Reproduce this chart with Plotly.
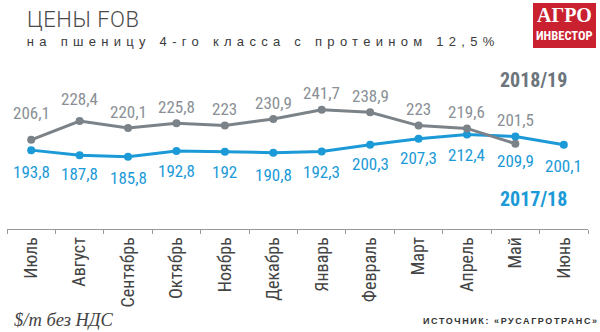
import plotly.graph_objects as go

months = ["Июль", "Август", "Сентябрь", "Октябрь", "Ноябрь", "Декабрь",
          "Январь", "Февраль", "Март", "Апрель", "Май", "Июнь"]
prices_2018_19 = [206.1, 228.4, 220.1, 225.8, 223, 230.9, 241.7, 238.9, 223, 219.6, 201.5]
prices_2017_18 = [193.8, 187.8, 185.8, 192.8, 192, 190.8, 192.3, 200.3, 207.3, 212.4, 209.9, 200.1]

# label offsets (pixels) for the value labels
gray_shift = [27, 22, 16, 16, 17, 16, 17, 16, 17, 16, 24]
blue_shift = [-22, -19, -21, -20, -20, -22, -21, -19, -19, -21, -24, -21]

GRAY = "#7b8389"
GRAY_TXT = "#8a9096"
BLUE = "#1b9ad7"
NARROW = "Liberation Sans Narrow, Arial Narrow, Roboto Condensed, sans-serif"

W, H = 600, 332
L, R, T, B = 7, 12, 60, 103


def fx(px):
    return (px - L) / (W - L - R)


def fy(py):
    return (H - B - py) / (H - T - B)


def fmt(v):
    s = f"{v:.1f}".rstrip("0").rstrip(".")
    return s.replace(".", ",")


fig = go.Figure()
fig.add_trace(go.Scatter(
    x=months, y=prices_2017_18, mode="lines+markers",
    line=dict(color=BLUE, width=3), marker=dict(color=BLUE, size=8),
    hoverinfo="skip", showlegend=False))
fig.add_trace(go.Scatter(
    x=months[:len(prices_2018_19)], y=prices_2018_19, mode="lines+markers",
    line=dict(color=GRAY, width=3), marker=dict(color=GRAY, size=8),
    hoverinfo="skip", showlegend=False))

ann = []
for m, v, s in zip(months, prices_2018_19, gray_shift):
    ann.append(dict(x=m, y=v, text=fmt(v), showarrow=False, yshift=s,
                    font=dict(family=NARROW, size=17, color=GRAY_TXT)))
for m, v, s in zip(months, prices_2017_18, blue_shift):
    ann.append(dict(x=m, y=v, text=fmt(v), showarrow=False, yshift=s,
                    font=dict(family=NARROW, size=17, color=BLUE)))

# titles
ann.append(dict(xref="paper", yref="paper", x=fx(26), y=fy(20), xanchor="left", yanchor="middle",
                text="ЦЕНЫ FOB", showarrow=False,
                font=dict(family="Roboto, sans-serif", size=22, weight=300, color="#4a4a4a")))
ann.append(dict(xref="paper", yref="paper", x=fx(26), y=fy(42), xanchor="left", yanchor="middle",
                text="на пшеницу 4-го класса с протеином 12,5%", showarrow=False,
                font=dict(family="Liberation Sans, Arial, sans-serif", size=13, color="#3a3a3a")))
# series names
ann.append(dict(xref="paper", yref="paper", x=fx(569), y=fy(80), xanchor="right", yanchor="middle",
                text="<b>2018/19</b>", showarrow=False,
                font=dict(family=NARROW, size=20, color="#6d757c")))
ann.append(dict(xref="paper", yref="paper", x=fx(569), y=fy(199), xanchor="right", yanchor="middle",
                text="<b>2017/18</b>", showarrow=False,
                font=dict(family=NARROW, size=20, color=BLUE)))
# footer
ann.append(dict(xref="paper", yref="paper", x=fx(12), y=fy(320), xanchor="left", yanchor="middle",
                text="<i>$/т без НДС</i>", showarrow=False,
                font=dict(family="Liberation Serif, Times New Roman, serif", size=18.5, color="#444444")))
ann.append(dict(xref="paper", yref="paper", x=fx(596), y=fy(321), xanchor="right", yanchor="middle",
                text="<b>ИСТОЧНИК: «РУСАГРОТРАНС»</b>", showarrow=False,
                font=dict(family="Liberation Sans, Arial, sans-serif", size=9, color="#333333")))
# logo
ann.append(dict(xref="paper", yref="paper", x=fx(564), y=fy(15), xanchor="center", yanchor="middle",
                text="<b>АГРО</b>", showarrow=False,
                font=dict(family="Liberation Serif, Times New Roman, serif", size=20, color="white")))
ann.append(dict(xref="paper", yref="paper", x=fx(564), y=fy(36), xanchor="center", yanchor="middle",
                text="<b>ИНВЕСТОР</b>", showarrow=False,
                font=dict(family=NARROW, size=12.5, color="white")))

fig.update_layout(
    width=W, height=H,
    margin=dict(l=L, r=R, t=T, b=B),
    paper_bgcolor="white", plot_bgcolor="white",
    annotations=ann,
    shapes=[dict(type="rect", xref="paper", yref="paper",
                 x0=fx(533), x1=fx(596), y0=fy(3), y1=fy(48),
                 fillcolor="#c9212f", line=dict(width=0), layer="below")],
    xaxis=dict(type="category", range=[-0.5, 11.5], showgrid=False, zeroline=False,
               showline=True, linecolor="#999999", linewidth=1,
               ticks="outside", tickson="boundaries", ticklen=4, tickcolor="#999999",
               tickangle=-90, tickfont=dict(family=NARROW, size=18, color="#444444"),
               fixedrange=True),
    yaxis=dict(range=[100, 301], visible=False, fixedrange=True),
)

# spread letters of the tracked texts to the reference width, left-anchored
# (coordinates measured relative to the figure's own svg)
post = """
var svgLeft = document.querySelector('.main-svg').getBoundingClientRect().left;
var specs = [['ЦЕНЫ', 27, 139], ['на пшеницу', 27, 495], ['ИСТОЧНИК', 423, 597]];
document.querySelectorAll('.annotation-text').forEach(function(t){
  specs.forEach(function(s){
    if (t.textContent.indexOf(s[0]) !== 0) return;
    var n = t.textContent.length;
    var xa = parseFloat(t.getAttribute('x')) || 0;
    var r0 = t.getBoundingClientRect();
    var anchor = t.getAttribute('text-anchor') || 'start';
    var localLeft = anchor === 'middle' ? xa - r0.width / 2 : (anchor === 'end' ? xa - r0.width : xa);
    var off = (r0.left - svgLeft) - localLeft;
    var sp = (s[2] - s[1] - r0.width) / (n - 1);
    t.setAttribute('text-anchor', 'start');
    t.style.letterSpacing = sp + 'px';
    t.setAttribute('x', s[1] - off);
    t.querySelectorAll('tspan[x]').forEach(function(ts){ ts.setAttribute('x', s[1] - off); });
  });
});
"""
fig.write_html("out.html", post_script=post, config={"staticPlot": True})
